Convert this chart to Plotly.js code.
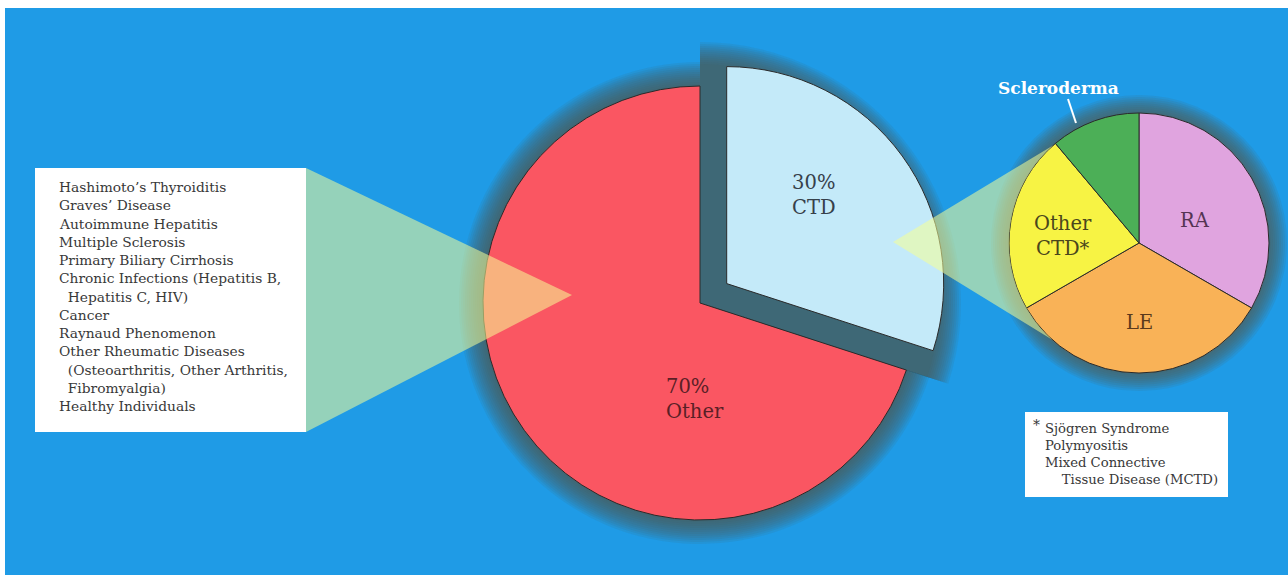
<!DOCTYPE html>
<html>
<head>
<meta charset="utf-8">
<script src="https://cdn.plot.ly/plotly-3.0.1.min.js"></script>
<style>
html,body{margin:0;padding:0;background:#fff;overflow:hidden;}
#chart{width:1288px;height:578px;}
</style>
</head>
<body>
<div id="chart"></div>
<script>
// ---- data ----
const bigLabels = ["CTD", "Other"];
const bigValues = [30, 70];
const ctdLabels = ["RA", "LE", "Other CTD*", "Scleroderma"];
const ctdValues = [33, 33, 22, 11];
const otherList = [
  "Hashimoto’s Thyroiditis",
  "Graves’ Disease",
  "Autoimmune Hepatitis",
  "Multiple Sclerosis",
  "Primary Biliary Cirrhosis",
  "Chronic Infections (Hepatitis B,",
  "\u00a0\u00a0Hepatitis C, HIV)",
  "Cancer",
  "Raynaud Phenomenon",
  "Other Rheumatic Diseases",
  "\u00a0\u00a0(Osteoarthritis, Other Arthritis,",
  "\u00a0\u00a0Fibromyalgia)",
  "Healthy Individuals"
];
const footnoteList = [
  "Sjögren Syndrome",
  "Polymyositis",
  "Mixed Connective",
  "\u00a0\u00a0\u00a0\u00a0Tissue Disease (MCTD)"
];

// ---- layout helpers ----
const W = 1288, H = 578;
const X = px => px / W;
const Y = py => 1 - py / H;
const dom = (cx, cy, R) => ({x: [X(cx - R), X(cx + R)], y: [Y(cy + R), Y(cy - R)]});

const BIG = {cx: 700, cy: 303, r: 217, shift: 33};
const SMALL = {cx: 1139, cy: 243, r: 130};
const bigPull = BIG.shift / BIG.r;

const bigColors = ["#c4eaf9", "#fa5662"];
const ctdColors = ["#e0a4df", "#f9b257", "#f7f344", "#4caf57"];
const CLEAR = "rgba(0,0,0,0)";
const haloRGB = "82,92,82";

const traces = [];
function pieBase(extra) {
  return Object.assign({
    type: "pie", sort: false, direction: "clockwise", rotation: 0,
    textinfo: "none", hoverinfo: "skip", showlegend: false
  }, extra);
}
// soft glow: many thin translucent layers
const haloSteps = [];
for (let k = 24; k >= 2; k -= 2) haloSteps.push(k);
haloSteps.forEach(k => {
  const c = `rgba(${haloRGB},0.1)`;
  traces.push(pieBase({
    labels: bigLabels, values: bigValues,
    marker: {colors: [c, CLEAR], line: {width: 0}},
    domain: dom(BIG.cx, BIG.cy, BIG.r + 20 + k)
  }));
  traces.push(pieBase({
    labels: bigLabels, values: bigValues,
    marker: {colors: [CLEAR, c], line: {width: 0}},
    domain: dom(BIG.cx, BIG.cy, BIG.r + k)
  }));
});
haloSteps.filter(k => k <= 18).forEach(k => {
  traces.push(pieBase({
    labels: ["halo"], values: [1],
    marker: {colors: [`rgba(${haloRGB},0.12)`], line: {width: 0}},
    domain: dom(SMALL.cx, SMALL.cy, SMALL.r + k)
  }));
});
// main pies
traces.push(pieBase({
  labels: bigLabels, values: bigValues,
  pull: bigLabels.map(l => l === "CTD" ? bigPull : 0),
  marker: {colors: bigColors, line: {color: "#2a2a2a", width: 1}},
  domain: dom(BIG.cx, BIG.cy, BIG.r * (1 + bigPull))
}));
traces.push(pieBase({
  labels: ctdLabels, values: ctdValues,
  marker: {colors: ctdColors, line: {color: "#2a2a2a", width: 1}},
  domain: dom(SMALL.cx, SMALL.cy, SMALL.r)
}));

// ---- shapes ----
const funnelFill = "rgba(245,255,150,0.55)";
function pathFrom(pts) {
  return "M " + pts.map(p => X(p[0]).toFixed(5) + "," + Y(p[1]).toFixed(5)).join(" L ") + " Z";
}
function hitCircle(p0, d, c, r) {
  const fx = p0[0] - c.cx, fy = p0[1] - c.cy;
  const A = d[0] * d[0] + d[1] * d[1], B = 2 * (fx * d[0] + fy * d[1]), C = fx * fx + fy * fy - r * r;
  const disc = Math.max(0, B * B - 4 * A * C);
  const t = (-B - Math.sqrt(disc)) / (2 * A);
  return [p0[0] + t * d[0], p0[1] + t * d[1]];
}
const tip = [893, 242];
const up = hitCircle(tip, [164, -99], SMALL, SMALL.r);
const lo = hitCircle(tip, [140, 86], SMALL, SMALL.r);
// arc along the left side of the small pie (screen angles, y down)
const a0 = Math.atan2(up[1] - SMALL.cy, up[0] - SMALL.cx);
let a1 = Math.atan2(lo[1] - SMALL.cy, lo[0] - SMALL.cx);
if (a1 > a0) a1 -= 2 * Math.PI;
const rightPts = [tip, up];
for (let i = 1; i < 24; i++) {
  const a = a0 + (a1 - a0) * i / 24;
  rightPts.push([SMALL.cx + SMALL.r * Math.cos(a), SMALL.cy + SMALL.r * Math.sin(a)]);
}
rightPts.push(lo);

const shapes = [
  {type: "rect", layer: "below", xref: "paper", yref: "paper",
   x0: X(5), x1: X(1288), y0: Y(575), y1: Y(8), fillcolor: "#1f9be6", line: {width: 0}},
  {type: "rect", layer: "above", xref: "paper", yref: "paper",
   x0: X(35), x1: X(306), y0: Y(432), y1: Y(168), fillcolor: "#ffffff", line: {width: 0}},
  {type: "path", layer: "above", xref: "paper", yref: "paper",
   path: pathFrom([[306, 168], [572, 295], [306, 432]]), fillcolor: funnelFill, line: {width: 0}},
  {type: "path", layer: "above", xref: "paper", yref: "paper",
   path: pathFrom(rightPts), fillcolor: funnelFill, line: {width: 0}},
  {type: "line", layer: "above", xref: "paper", yref: "paper",
   x0: X(1068), y0: Y(99), x1: X(1076), y1: Y(123), line: {color: "#ffffff", width: 2}},
  {type: "rect", layer: "above", xref: "paper", yref: "paper",
   x0: X(1025), x1: X(1228), y0: Y(497), y1: Y(412), fillcolor: "#ffffff", line: {width: 0}}
];

// ---- annotations ----
const serif = "DejaVu Serif, serif";
const ann = [];
function A(text, x, y, opts) {
  ann.push(Object.assign({text, x: X(x), y: Y(y), xref: "paper", yref: "paper",
    showarrow: false, xanchor: "center", yanchor: "middle",
    font: {family: serif, size: 20, color: "#333"}}, opts || {}));
}
A(bigValues[0] + "%<br>" + bigLabels[0], 814, 195, {font: {family: serif, size: 19.5, color: "#36404a"}});
A(bigValues[1] + "%<br>" + bigLabels[1], 664, 399, {xanchor: "left", align: "left", font: {family: serif, size: 19.5, color: "#5a1f26"}});
A(ctdLabels[0], 1195, 221, {font: {family: serif, size: 19.5, color: "#553453"}});
A(ctdLabels[1], 1139, 322, {font: {family: serif, size: 19.5, color: "#5a3a1c"}});
A(ctdLabels[2].replace(" ", "<br>"), 1063, 236, {font: {family: serif, size: 19.5, color: "#4a461c"}});
A("<b>" + ctdLabels[3] + "</b>", 1058, 88, {font: {family: serif, size: 17, color: "#ffffff"}});
otherList.forEach((t, i) => {
  A(t, 57, 187 + i * 18.25, {xanchor: "left", font: {family: serif, size: 13.8, color: "#383838"}});
});
A("*", 1036, 425, {font: {family: serif, size: 14, color: "#383838"}});
footnoteList.forEach((t, i) => {
  A(t, 1043, 428 + i * 17.3, {xanchor: "left", font: {family: serif, size: 13.2, color: "#383838"}});
});

const layout = {
  width: W, height: H,
  margin: {l: 0, r: 0, t: 0, b: 0, pad: 0},
  paper_bgcolor: "#ffffff",
  showlegend: false,
  shapes: shapes,
  annotations: ann
};
Plotly.newPlot("chart", traces, layout, {displayModeBar: false, staticPlot: true});
</script>
</body>
</html>
